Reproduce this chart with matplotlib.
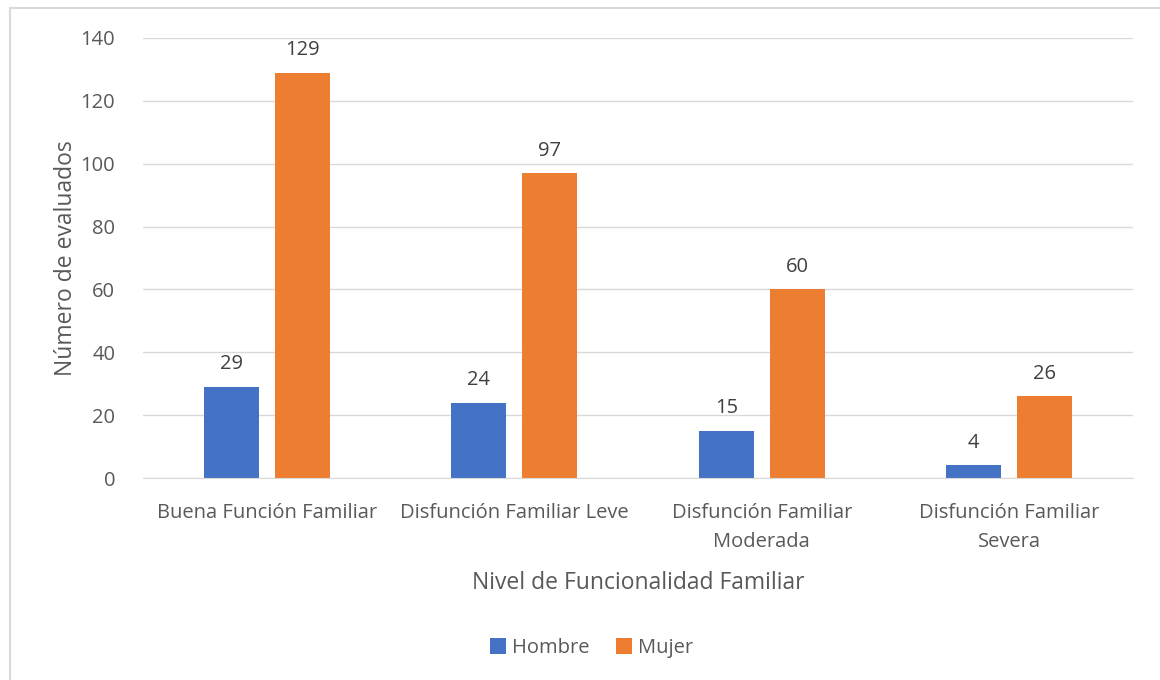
import numpy as np
import matplotlib.pyplot as plt
from matplotlib.patches import Rectangle

plt.rcParams['font.family'] = ['Open Sans', 'DejaVu Sans']

categorias = ['Buena Función Familiar', 'Disfunción Familiar Leve',
              'Disfunción Familiar\nModerada', 'Disfunción Familiar\nSevera']
hombre = [29, 24, 15, 4]
mujer = [129, 97, 60, 26]

azul = '#4472C4'
naranja = '#ED7D31'
gris = '#595959'

fig = plt.figure(figsize=(11.6, 6.8), dpi=100)
# borde del gráfico (solo se ven arriba e izquierda)
fig.patches.append(Rectangle((10 / 1160, -0.2), 1.2, 1.2 - 8 / 680, transform=fig.transFigure,
                             fill=False, edgecolor='#D9D9D9', linewidth=1.5))

ax = fig.add_axes([143 / 1160, 1 - 478 / 680, (1133 - 143) / 1160, (478 - 38) / 680])

x = np.arange(len(categorias))
ancho = 0.222
desp = 0.143
b1 = ax.bar(x - desp, hombre, ancho, color=azul, label='Hombre')
b2 = ax.bar(x + desp, mujer, ancho, color=naranja, label='Mujer')

for barras in (b1, b2):
    for b in barras:
        ax.text(b.get_x() + b.get_width() / 2, b.get_height() + 4, f'{int(b.get_height())}',
                ha='center', va='bottom', fontsize=14.5, color='#404040')

ax.set_xlim(-0.5, 3.5)
ax.set_ylim(0, 140)
ax.set_yticks(range(0, 141, 20))
ax.set_xticks(x)
ax.set_xticklabels(categorias, fontsize=14.5, color=gris, linespacing=1.6)
ax.tick_params(axis='y', labelsize=14.5, labelcolor=gris, length=0, pad=20)
ax.tick_params(axis='x', length=0, pad=18)
ax.grid(axis='y', color='#D9D9D9', linewidth=1)
ax.set_axisbelow(True)
for s in ['top', 'right', 'left']:
    ax.spines[s].set_visible(False)
ax.spines['bottom'].set_color('#D9D9D9')

ax.set_ylabel('Número de evaluados', fontsize=16.5, color=gris, labelpad=2)
ax.set_xlabel('Nivel de Funcionalidad Familiar', fontsize=16.5, color=gris, labelpad=14)

fig.legend(handles=[b1, b2], loc='center', bbox_to_anchor=(0.51, 1 - 648 / 680), ncol=2,
           frameon=False, fontsize=14.5, handlelength=0.8, handleheight=0.8,
           handletextpad=0.3, columnspacing=1.3, labelcolor=gris)

plt.savefig('out.png', dpi=100)
